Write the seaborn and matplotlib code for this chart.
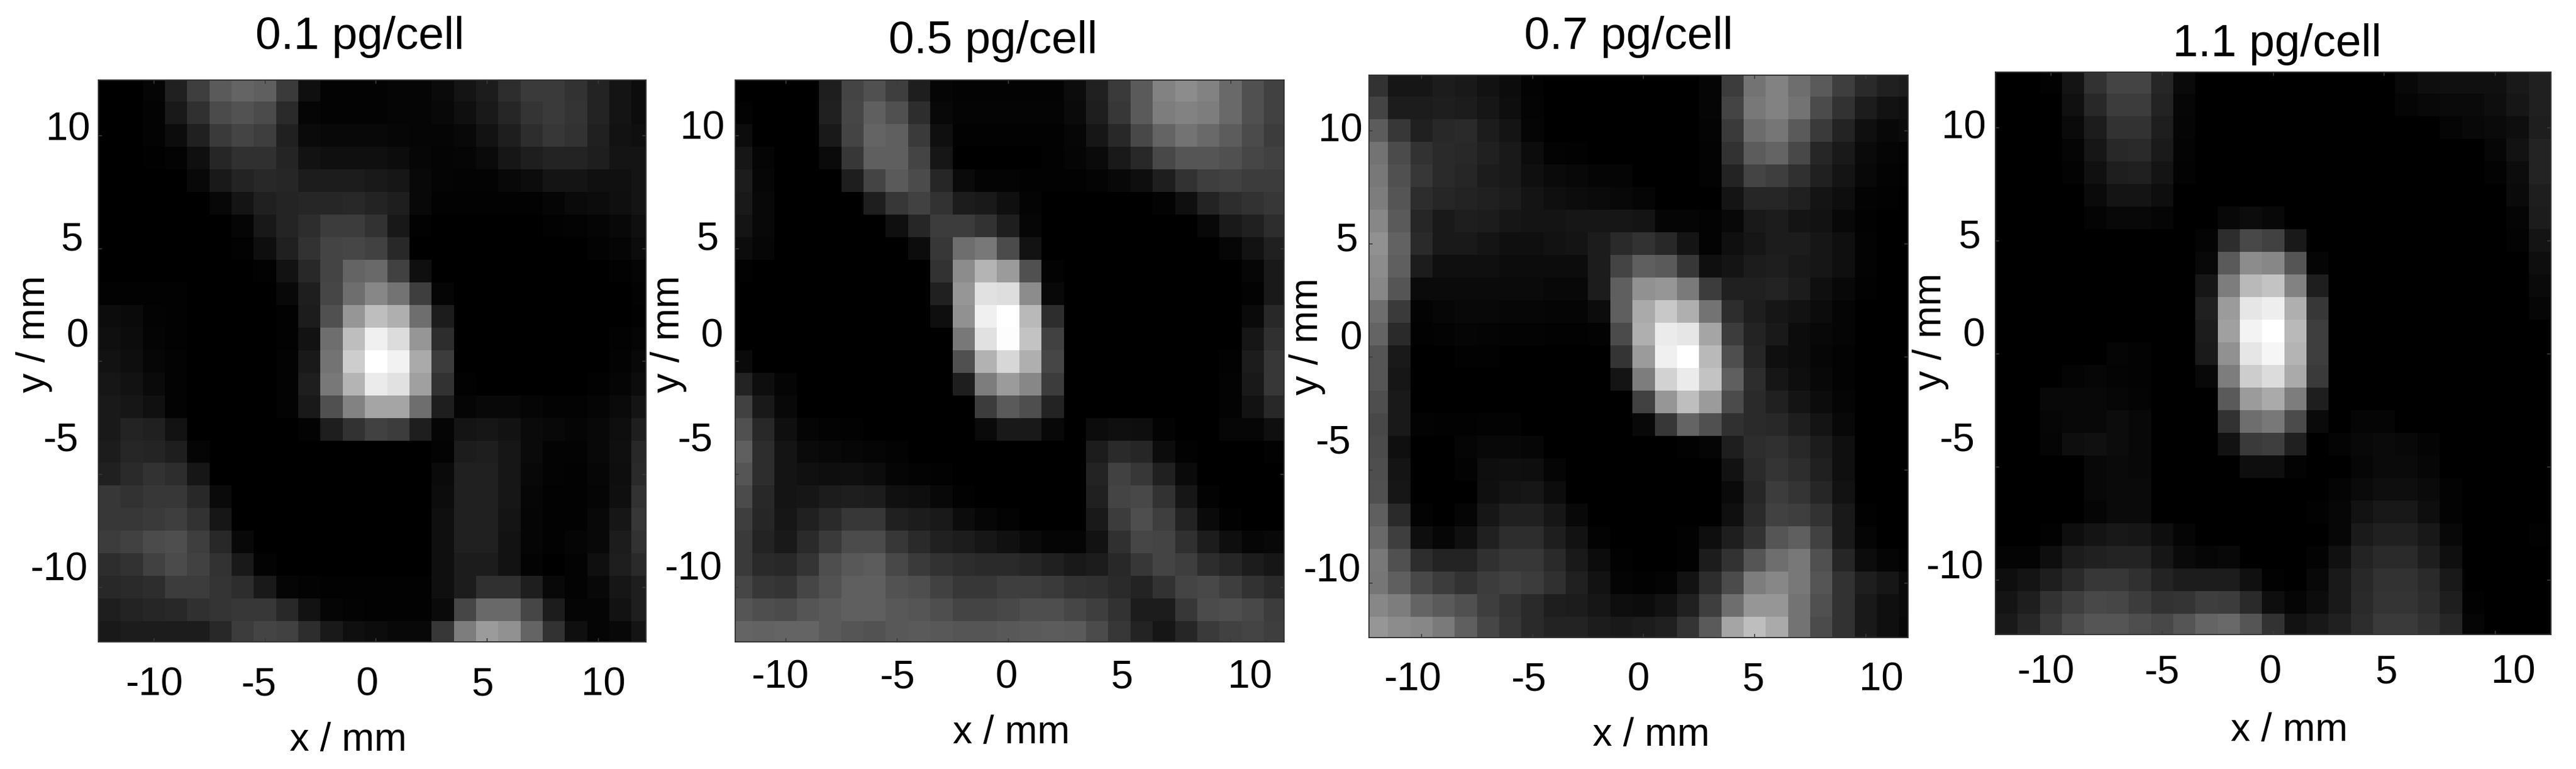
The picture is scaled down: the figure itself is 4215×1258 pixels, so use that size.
import numpy as np
import pandas as pd
import seaborn as sns
import matplotlib
matplotlib.use('Agg')
import matplotlib.pyplot as plt
from matplotlib.transforms import ScaledTranslation

plt.rcParams['font.family'] = ['Liberation Sans', 'DejaVu Sans']

titles = ['0.1 pg/cell', '0.5 pg/cell', '0.7 pg/cell', '1.1 pg/cell']
x_mm = np.arange(-12, 13)
y_mm = np.arange(12, -13, -1)
tick_mm = [-10, -5, 0, 5, 10]

# grey level of each cell (top row first)
signal_01 = [
    [0,0,5,32,62,90,100,95,58,15,3,3,3,5,5,10,20,28,45,58,58,50,35,20,12],
    [0,0,3,25,48,75,82,75,42,5,3,3,3,5,5,8,15,25,38,52,58,52,35,20,12],
    [0,0,3,12,32,58,68,62,32,10,8,8,8,6,5,5,8,18,30,45,55,50,32,18,15],
    [0,0,1,3,15,38,48,48,36,18,15,15,15,12,6,4,5,10,22,30,35,35,30,20,20],
    [0,0,0,0,8,25,35,40,38,28,28,28,25,22,8,4,3,3,8,12,20,20,16,16,20],
    [0,0,0,0,0,7,20,32,36,38,38,40,35,30,8,2,2,2,2,2,5,10,12,15,20],
    [0,0,0,0,0,0,5,24,36,45,60,60,50,24,2,0,0,0,0,0,2,3,5,8,15],
    [0,0,0,0,0,0,2,14,32,50,68,70,65,40,0,0,0,0,0,0,0,0,3,5,12],
    [0,0,0,0,0,0,0,2,18,40,68,100,105,65,15,0,0,0,0,0,0,0,0,2,5],
    [2,2,2,2,0,0,0,0,8,30,70,110,135,115,62,5,0,0,0,0,0,0,0,0,3],
    [12,10,3,2,0,0,0,0,2,28,80,150,190,175,110,28,0,0,0,0,0,0,0,0,2],
    [15,12,4,2,0,0,0,0,2,18,110,190,240,220,150,45,0,0,0,0,0,0,0,2,5],
    [18,14,6,3,0,0,0,0,3,25,115,205,255,242,170,60,0,0,0,0,0,0,0,3,8],
    [22,18,10,3,0,0,0,0,3,30,120,180,235,225,160,50,2,0,0,0,0,0,2,5,12],
    [25,22,16,3,0,0,0,0,3,25,80,130,165,165,110,30,5,8,8,5,3,3,5,10,20],
    [25,35,32,18,0,0,0,0,0,3,30,50,65,60,30,5,20,22,18,10,8,5,8,14,30],
    [28,38,36,30,5,0,0,0,0,0,0,0,0,0,0,3,28,30,22,10,3,3,8,15,40],
    [32,42,50,45,22,0,0,0,0,0,0,0,0,0,0,10,32,32,22,8,3,2,6,14,42],
    [55,50,55,55,40,10,0,0,0,0,0,0,0,0,0,12,32,32,22,6,2,2,5,15,50],
    [55,55,58,62,50,22,0,0,0,0,0,0,0,0,0,15,32,32,20,5,2,2,8,22,55],
    [60,65,75,78,62,40,8,0,0,0,0,0,0,0,0,15,32,32,18,5,2,5,8,28,50],
    [45,50,65,75,65,50,25,3,0,0,0,0,0,0,0,15,28,28,18,3,0,3,15,30,42],
    [40,42,45,60,60,52,45,25,5,3,2,2,2,2,2,15,28,48,48,30,8,3,8,22,30],
    [30,35,38,40,48,52,55,55,40,18,5,3,2,2,2,10,70,105,105,70,28,5,5,18,30],
    [25,28,28,28,28,40,60,68,65,45,25,15,12,8,8,55,125,155,145,100,50,15,5,8,20],
]
signal_05 = [
    [0,0,0,0,30,68,80,62,30,5,3,3,3,3,3,12,32,58,90,130,140,130,105,80,65],
    [3,0,0,0,32,70,95,80,45,8,4,4,4,4,4,10,30,55,90,125,130,125,105,80,65],
    [12,0,0,0,25,68,100,95,58,15,2,2,2,2,2,6,22,40,72,100,115,105,92,75,60],
    [22,5,0,0,10,55,95,95,68,22,0,0,0,0,2,5,10,25,40,72,85,85,80,70,65],
    [28,6,0,0,0,30,68,90,75,38,10,4,4,2,2,2,4,8,14,30,50,62,65,60,60],
    [25,8,0,0,0,0,30,55,65,50,28,25,15,4,0,0,0,0,0,3,15,35,45,50,55],
    [20,8,0,0,0,0,0,15,38,60,60,50,30,6,0,0,0,0,0,0,0,8,25,32,45],
    [12,6,0,0,0,0,0,0,12,55,110,120,75,18,0,0,0,0,0,0,0,0,6,18,32],
    [2,0,0,0,0,0,0,0,0,50,140,180,155,80,3,0,0,0,0,0,0,0,0,6,25],
    [0,0,0,0,0,0,0,0,0,32,150,225,222,140,8,0,0,0,0,0,0,0,0,3,25],
    [0,0,0,0,0,0,0,0,0,14,145,240,255,185,45,0,0,0,0,0,0,0,0,10,40],
    [0,0,0,0,0,0,0,0,0,0,120,225,253,195,65,0,0,0,0,0,0,0,0,22,48],
    [10,0,0,0,0,0,0,0,0,0,80,178,215,175,70,0,0,0,0,0,0,0,2,28,55],
    [35,14,5,0,0,0,0,0,0,0,30,125,155,135,60,0,0,0,0,0,0,0,3,25,55],
    [65,25,8,0,0,0,0,0,0,0,0,60,90,78,35,0,0,0,0,0,0,0,3,18,40],
    [80,40,15,5,3,2,0,0,0,0,0,10,25,25,8,0,12,15,14,3,0,0,6,6,15],
    [95,45,20,10,8,6,5,3,0,0,0,0,0,0,0,0,28,42,38,12,2,0,0,0,2],
    [85,45,20,16,14,15,12,5,3,2,0,0,0,0,0,0,35,65,55,32,10,0,0,0,0],
    [75,40,20,22,28,30,28,16,14,8,2,0,0,0,0,0,32,68,72,50,22,3,0,0,0],
    [62,38,22,32,42,55,55,32,28,25,12,6,3,0,0,0,25,60,78,62,35,10,2,0,0],
    [58,35,25,42,58,75,75,55,42,32,28,22,16,10,5,5,18,48,70,68,48,28,14,6,8],
    [58,42,40,52,78,88,92,72,58,50,45,42,42,38,32,25,28,40,55,68,62,45,38,28,22],
    [70,55,52,70,82,95,95,82,78,65,55,55,62,62,58,50,48,42,35,50,68,72,62,50,42],
    [85,78,75,85,90,95,95,88,85,78,68,68,72,78,78,70,62,50,28,28,55,75,78,72,60],
    [100,98,100,100,90,85,82,88,90,88,85,85,88,90,92,90,75,55,35,22,38,58,65,68,62],
]
signal_07 = [
    [50,22,22,28,25,18,12,3,0,0,0,0,0,0,0,5,60,115,130,110,90,62,42,32,28],
    [68,28,28,30,28,22,14,4,0,0,0,0,0,0,0,5,68,120,130,115,75,50,28,18,15],
    [92,55,32,40,42,28,20,5,0,0,0,0,0,0,0,4,58,108,118,90,58,35,15,8,12],
    [115,75,50,42,40,32,25,12,3,2,0,0,0,0,0,3,50,92,100,72,38,25,10,5,3],
    [120,80,55,42,38,28,25,15,10,8,5,5,0,0,0,3,35,68,62,48,32,20,8,3,2],
    [125,85,45,38,35,32,28,20,15,12,10,8,5,0,0,0,20,38,38,32,20,14,3,2,0],
    [135,90,38,25,30,28,22,20,20,22,22,22,20,5,5,3,8,25,28,20,18,8,2,0,0],
    [145,98,42,25,25,20,15,15,18,20,28,42,50,40,20,3,15,22,28,28,22,15,3,0,0],
    [140,95,28,15,15,15,12,12,12,12,28,68,95,90,55,15,20,28,30,25,22,15,3,0,0],
    [135,85,10,10,10,10,10,10,8,8,28,95,145,150,122,60,32,32,35,28,15,8,2,0,0],
    [110,58,3,6,8,8,6,6,5,5,12,95,170,200,175,115,45,30,22,18,12,5,0,0,0],
    [100,42,2,3,5,4,3,3,2,2,3,75,175,235,230,165,60,35,25,12,8,5,0,0,0],
    [85,25,0,0,2,2,0,0,0,0,0,52,155,240,255,185,78,38,15,12,6,3,0,0,0],
    [85,22,0,0,0,0,0,0,0,0,0,20,125,210,235,195,95,45,22,14,8,3,0,0,0],
    [78,25,0,0,0,0,0,0,0,0,0,0,65,150,190,155,75,42,32,20,12,5,0,0,0],
    [72,25,3,2,2,3,3,0,0,0,0,0,8,55,100,80,48,42,40,30,20,8,0,0,0],
    [75,15,0,0,5,8,8,6,0,0,0,0,0,0,2,5,30,45,48,40,28,15,0,0,0],
    [78,20,0,0,3,14,15,14,5,0,0,0,0,0,0,0,18,42,52,45,32,15,0,0,0],
    [80,22,0,0,0,15,20,22,12,0,0,0,0,0,0,0,10,38,60,52,38,18,0,0,0],
    [95,42,3,0,5,22,32,32,22,8,0,0,0,0,0,0,15,42,65,62,50,25,2,0,0],
    [105,62,14,6,15,32,45,45,30,18,3,0,0,0,2,14,30,50,85,95,65,25,5,0,0],
    [120,80,45,35,35,48,55,55,42,25,12,2,0,0,2,28,50,85,110,120,80,38,12,5,2],
    [118,95,72,60,50,60,65,60,48,32,18,4,2,4,18,45,75,125,135,120,85,50,30,22,10],
    [135,125,100,90,80,62,52,42,30,28,22,14,12,18,32,62,110,150,150,115,80,50,25,15,10],
    [150,140,135,122,95,70,55,42,35,35,28,25,28,32,52,90,165,190,170,115,75,50,25,15,8],
]
signal_11 = [
    [0,0,2,20,50,68,68,38,10,0,0,0,0,0,0,0,0,0,8,14,16,16,16,25,32],
    [0,0,0,16,40,60,60,35,6,0,0,0,0,0,0,0,0,0,5,8,10,10,14,22,32],
    [0,0,0,10,28,50,50,30,5,0,0,0,0,0,0,0,0,0,0,0,5,8,10,14,30],
    [0,0,0,5,22,40,42,26,4,0,0,0,0,0,0,0,0,0,0,0,0,0,6,18,35],
    [0,0,0,3,16,30,32,20,3,0,0,0,0,0,0,0,0,0,0,0,0,0,3,12,35],
    [0,0,0,0,10,20,20,14,0,0,0,0,0,0,0,0,0,0,0,0,0,0,0,10,30],
    [0,0,0,0,4,8,8,5,0,0,8,12,8,0,0,0,0,0,0,0,0,0,0,5,28],
    [0,0,0,0,0,0,0,0,0,4,45,72,65,25,0,0,0,0,0,0,0,0,0,3,20],
    [0,0,0,0,0,0,0,0,0,8,90,140,135,85,5,0,0,0,0,0,0,0,0,0,14],
    [0,0,0,0,0,0,0,0,0,22,125,185,195,130,30,0,0,0,0,0,0,0,0,0,10],
    [0,0,0,0,0,0,0,0,0,32,155,230,238,175,55,0,0,0,0,0,0,0,0,0,6],
    [0,0,0,0,0,0,0,0,0,28,160,243,255,185,62,0,0,0,0,0,0,0,0,0,0],
    [0,0,0,0,0,5,3,0,0,26,145,230,246,180,62,0,0,0,0,0,0,0,0,0,0],
    [0,0,0,4,6,4,3,0,0,8,125,205,220,170,58,0,0,0,0,0,0,0,0,0,0],
    [0,0,8,8,8,6,4,0,0,0,90,155,170,125,30,0,0,0,0,0,0,0,0,0,0],
    [0,0,6,8,8,12,8,0,0,0,50,110,120,75,10,0,5,5,0,0,0,0,0,0,0],
    [0,0,5,14,16,12,8,0,0,0,18,58,62,32,0,4,8,10,8,4,0,0,0,0,0],
    [0,0,0,0,8,10,8,0,0,0,0,14,14,3,0,0,6,10,10,6,0,0,0,0,0],
    [0,0,0,0,8,10,10,0,0,0,0,0,0,0,0,4,10,14,14,10,3,0,0,0,0],
    [0,0,0,0,5,10,10,0,0,0,0,0,0,0,2,6,18,24,24,14,3,0,0,0,0],
    [0,0,2,14,20,24,22,14,5,0,0,0,0,0,0,6,26,32,32,24,8,0,0,0,2],
    [4,4,14,28,32,35,35,22,10,6,8,0,0,0,3,16,35,42,42,30,15,0,0,0,0],
    [14,20,30,42,55,55,48,35,28,28,28,16,2,0,8,25,40,50,50,42,25,0,0,0,0],
    [20,30,50,62,72,70,60,50,52,62,60,42,14,5,12,25,42,52,52,45,30,2,0,0,0],
    [25,38,58,75,85,85,78,72,85,100,105,85,50,18,24,32,45,58,58,50,38,5,0,0,0],
]
signals = [signal_01, signal_05, signal_07, signal_11]

W, H = 4215, 1258

# panels were pasted by hand, so everything is placed in pixels
panels = [
    dict(box=(161, 131, 1057, 1050), xlim=(0, 24.65), ylim=(24.92, 0.04),
         title=(0.478, 37), xlabel=(570, 1228), ylabel=(86, 546), xpad=41,
         xoff=[0, -11, -15, -8, 8], ygap=[18, 33, 16, 25, 14], yoff=[-35, -62, -47, -21, -16]),
    dict(box=(1203, 131, 2101, 1050), xlim=(0.23, 24.9), ylim=(24.92, 0.04),
         title=(0.47, 32), xlabel=(1655, 1216), ylabel=(1124, 546), xpad=29,
         xoff=[-9, 0, -3, 4, 32], ygap=[22, 37, 20, 27, 17], yoff=[-36, -62, -47, -22, -18]),
    dict(box=(2240, 123, 3122, 1043), xlim=(0.14, 24.4), ylim=(24.92, 0.04),
         title=(0.482, 31), xlabel=(2702, 1220), ylabel=(2169, 550), xpad=40,
         xoff=[-15, -7, -9, -3, 25], ygap=[14, 30, 11, 18, 10], yoff=[-26, -51, -36, -12, -6]),
    dict(box=(3265, 118, 4174, 1038), xlim=(0, 25), ylim=(24.92, 0.04),
         title=(0.507, 19), xlabel=(3746, 1212), ylabel=(3189, 542), xpad=33,
         xoff=[-9, -1, -5, 3, 29], ygap=[20, 34, 17, 24, 15], yoff=[-26, -50, -36, -12, -6]),
]

fig = plt.figure(figsize=(W / 100, H / 100), dpi=100)

for values, name, p in zip(signals, titles, panels):
    x0, y0, x1, y1 = p['box']
    ax = fig.add_axes([x0 / W, 1 - y1 / H, (x1 - x0) / W, (y1 - y0) / H])
    df = pd.DataFrame(values, index=y_mm, columns=x_mm)
    sns.heatmap(df, ax=ax, cmap='gray', vmin=0, vmax=255, cbar=False, square=False,
                xticklabels=False, yticklabels=False)
    ax.set_aspect('auto')
    ax.set_xlim(*p['xlim'])
    ax.set_ylim(*p['ylim'])

    xpos = [list(x_mm).index(m) + 0.5 for m in tick_mm]
    ypos = [list(y_mm).index(m) + 0.5 for m in tick_mm]
    ax.set_xticks(xpos, [str(m) for m in tick_mm])
    ax.set_yticks(ypos, [str(m) for m in tick_mm], rotation=0)
    ax.tick_params(axis='x', direction='in', top=True, length=4, width=1.2,
                   color='#3a3a3a', labelsize=47, pad=p['xpad'] * 0.72)
    ax.tick_params(axis='y', direction='in', right=True, length=4, width=1.2,
                   color='#3a3a3a', labelsize=47, pad=0)
    for sp in ax.spines.values():
        sp.set_visible(True)
        sp.set_color('#333333')
        sp.set_linewidth(1.4)

    # nudge each tick label to where it sits in the original
    for lab, dx in zip(ax.get_xticklabels(), p['xoff']):
        lab.set_transform(lab.get_transform() + ScaledTranslation(dx / 100, 0, fig.dpi_scale_trans))
    for lab, gap, dy in zip(ax.get_yticklabels(), p['ygap'], p['yoff']):
        lab.set_transform(lab.get_transform() + ScaledTranslation(-gap / 100, -dy / 100, fig.dpi_scale_trans))

    ax.set_title(name, fontsize=54, x=p['title'][0], pad=p['title'][1])
    ax.set_xlabel('x / mm', fontsize=46, va='baseline')
    ax.xaxis.set_label_coords(p['xlabel'][0] / W, 1 - p['xlabel'][1] / H, transform=fig.transFigure)
    ax.set_ylabel('y / mm', fontsize=46)
    ax.yaxis.set_label_coords(p['ylabel'][0] / W, 1 - p['ylabel'][1] / H, transform=fig.transFigure)

fig.savefig('out.png', dpi=100, facecolor='white')
